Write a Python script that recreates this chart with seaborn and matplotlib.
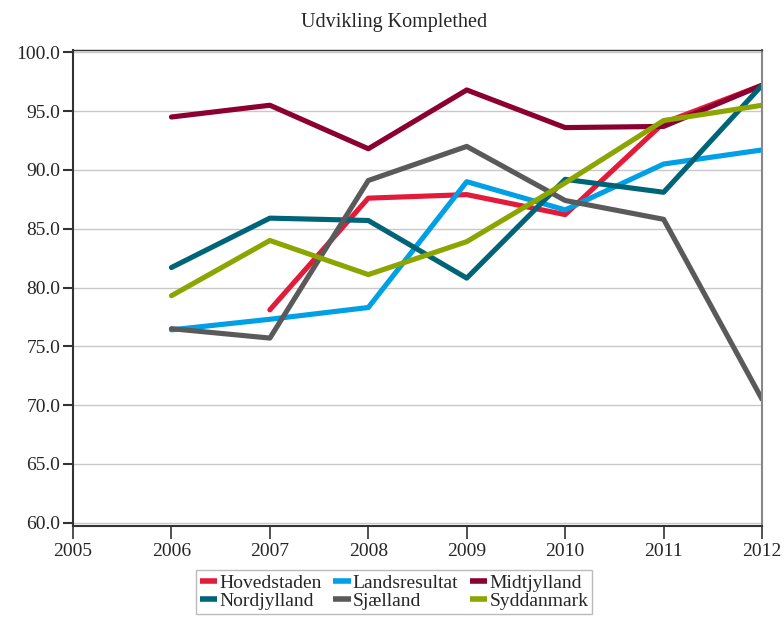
import numpy as np
import pandas as pd
import matplotlib
matplotlib.use("Agg")
import matplotlib.pyplot as plt
import seaborn as sns

years = [2006, 2007, 2008, 2009, 2010, 2011, 2012]
hovedstaden = [np.nan, 78.1, 87.6, 87.9, 86.2, 94.0, 97.2]
landsresultat = [76.4, 77.3, 78.3, 89.0, 86.6, 90.5, 91.7]
midtjylland = [94.5, 95.5, 91.8, 96.8, 93.6, 93.7, 97.2]
nordjylland = [81.7, 85.9, 85.7, 80.8, 89.2, 88.1, 97.2]
sjaelland = [76.5, 75.7, 89.1, 92.0, 87.4, 85.8, 70.5]
syddanmark = [79.3, 84.0, 81.1, 83.9, 88.9, 94.2, 95.5]

series_names = ["Hovedstaden", "Landsresultat", "Midtjylland",
                "Nordjylland", "Sjælland", "Syddanmark"]
series_values = [hovedstaden, landsresultat, midtjylland,
                 nordjylland, sjaelland, syddanmark]
colors = ["#E31B3B", "#00A0E6", "#8B0030", "#006479", "#5A5A5A", "#8CA500"]

title = "Udvikling Komplethed"

rows = []
for name, vals in zip(series_names, series_values):
    for y, v in zip(years, vals):
        rows.append({"year": y, "value": v, "region": name})
df = pd.DataFrame(rows)

sns.set_style("white")
plt.rcParams["font.family"] = ["Liberation Serif", "DejaVu Serif"]

fig = plt.figure(figsize=(7.84, 6.17), dpi=100)
ax = fig.add_axes([0.0931, 0.1475, 0.8789, 0.7715])

sns.lineplot(data=df, x="year", y="value", hue="region",
             hue_order=series_names, palette=dict(zip(series_names, colors)),
             linewidth=3.7, ax=ax, legend=True)

ax.set_xlim(2005, 2012)
ax.set_ylim(59.72, 100.2)
ax.set_xticks(range(2005, 2013))
ax.set_xticklabels([str(y) for y in range(2005, 2013)])
ax.set_yticks(np.arange(60, 100.1, 5))
ax.set_yticklabels([f"{v:.1f}" for v in np.arange(60, 100.1, 5)])
ax.set_xlabel("")
ax.set_ylabel("")
ax.yaxis.grid(True, color="#C8C8C8", linewidth=1.0)
ax.xaxis.grid(False)
ax.set_axisbelow(True)

for side in ["left", "bottom"]:
    ax.spines[side].set_color("#333333")
    ax.spines[side].set_linewidth(1.5)
ax.spines["top"].set_color("#333333")
ax.spines["top"].set_linewidth(1.0)
ax.spines["right"].set_color("#888888")
ax.spines["right"].set_linewidth(1.5)

ax.tick_params(axis="y", direction="out", length=7, width=1.5, color="#333333",
               labelsize=14, pad=2, left=True)
ax.tick_params(axis="x", direction="out", length=9, width=1.2, color="#333333",
               labelsize=14, pad=3, bottom=True)

fig.text(0.5026, 1 - 22 / 617, title, ha="center", va="center", fontsize=14.5)

handles, labels = ax.get_legend_handles_labels()
hmap = dict(zip(labels, handles))
# legend fills column-major; reorder so rows read as in the reference
order = [0, 3, 1, 4, 2, 5]
ordered_labels = [series_names[i] for i in order]
ordered_handles = [hmap[l] for l in ordered_labels]
ax.legend_.remove()
leg = fig.legend(ordered_handles, ordered_labels, loc="upper center", ncol=3,
                 bbox_to_anchor=(0.5026, 1 - 570 / 617), bbox_transform=fig.transFigure,
                 borderaxespad=0, frameon=True, fancybox=False, fontsize=14,
                 handlelength=0.9, handletextpad=0.1, columnspacing=0.6,
                 labelspacing=0.05, borderpad=0.2)
leg.get_frame().set_edgecolor("#AAAAAA")
leg.get_frame().set_linewidth(1.0)
for h in leg.get_lines():
    h.set_linewidth(4)
    h.set_solid_capstyle("butt")

fig.savefig("out.png", dpi=100)
